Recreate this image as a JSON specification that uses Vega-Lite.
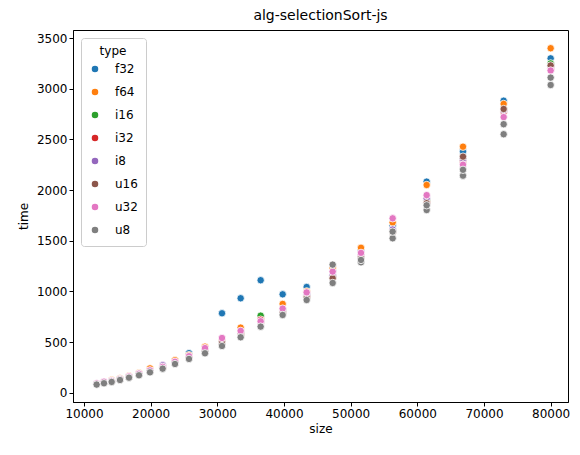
{
  "$schema": "https://vega.github.io/schema/vega-lite/v6.json",
  "autosize": {"type": "none"},
  "padding": {"left": 73, "top": 30, "right": 12, "bottom": 53},
  "width": 495,
  "height": 372,
  "background": "white",
  "title": {"text": "alg-selectionSort-js", "fontSize": 14, "font": "DejaVu Sans", "fontWeight": "normal", "color": "black", "offset": 7},
  "config": {
    "font": "DejaVu Sans",
    "view": {"stroke": "black", "strokeWidth": 1},
    "axis": {"labelFont": "DejaVu Sans", "titleFont": "DejaVu Sans", "labelFontSize": 12, "titleFontSize": 12, "titleFontWeight": "normal", "labelColor": "black", "titleColor": "black", "tickColor": "black", "domainColor": "black", "grid": false, "tickSize": 4}
  },
  "data": {"values": [
    {"size":11900,"type":"f32","time":88},{"size":11900,"type":"f64","time":86},{"size":11900,"type":"i16","time":85},{"size":11900,"type":"i32","time":84},{"size":11900,"type":"i8","time":86},{"size":11900,"type":"u16","time":85},{"size":11900,"type":"u32","time":90},{"size":11900,"type":"u8","time":80},
    {"size":13000,"type":"f32","time":100},{"size":13000,"type":"f64","time":104},{"size":13000,"type":"i16","time":98},{"size":13000,"type":"i32","time":97},{"size":13000,"type":"i8","time":99},{"size":13000,"type":"u16","time":98},{"size":13000,"type":"u32","time":108},{"size":13000,"type":"u8","time":93},
    {"size":14150,"type":"f32","time":118},{"size":14150,"type":"f64","time":122},{"size":14150,"type":"i16","time":112},{"size":14150,"type":"i32","time":111},{"size":14150,"type":"i8","time":114},{"size":14150,"type":"u16","time":112},{"size":14150,"type":"u32","time":116},{"size":14150,"type":"u8","time":106},
    {"size":15400,"type":"f32","time":135},{"size":15400,"type":"f64","time":140},{"size":15400,"type":"i16","time":130},{"size":15400,"type":"i32","time":128},{"size":15400,"type":"i8","time":132},{"size":15400,"type":"u16","time":130},{"size":15400,"type":"u32","time":134},{"size":15400,"type":"u8","time":125},
    {"size":16750,"type":"f32","time":160},{"size":16750,"type":"f64","time":165},{"size":16750,"type":"i16","time":154},{"size":16750,"type":"i32","time":152},{"size":16750,"type":"i8","time":158},{"size":16750,"type":"u16","time":155},{"size":16750,"type":"u32","time":160},{"size":16750,"type":"u8","time":148},
    {"size":18250,"type":"f32","time":185},{"size":18250,"type":"f64","time":195},{"size":18250,"type":"i16","time":180},{"size":18250,"type":"i32","time":178},{"size":18250,"type":"i8","time":185},{"size":18250,"type":"u16","time":180},{"size":18250,"type":"u32","time":188},{"size":18250,"type":"u8","time":172},
    {"size":19900,"type":"f32","time":225},{"size":19900,"type":"f64","time":240},{"size":19900,"type":"i16","time":212},{"size":19900,"type":"i32","time":210},{"size":19900,"type":"i8","time":215},{"size":19900,"type":"u16","time":212},{"size":19900,"type":"u32","time":220},{"size":19900,"type":"u8","time":201},
    {"size":21800,"type":"f32","time":255},{"size":21800,"type":"f64","time":260},{"size":21800,"type":"i16","time":248},{"size":21800,"type":"i32","time":245},{"size":21800,"type":"i8","time":270},{"size":21800,"type":"u16","time":250},{"size":21800,"type":"u32","time":255},{"size":21800,"type":"u8","time":237},
    {"size":23650,"type":"f32","time":300},{"size":23650,"type":"f64","time":320},{"size":23650,"type":"i16","time":292},{"size":23650,"type":"i32","time":290},{"size":23650,"type":"i8","time":298},{"size":23650,"type":"u16","time":295},{"size":23650,"type":"u32","time":305},{"size":23650,"type":"u8","time":283},
    {"size":25750,"type":"f32","time":390},{"size":25750,"type":"f64","time":370},{"size":25750,"type":"i16","time":350},{"size":25750,"type":"i32","time":345},{"size":25750,"type":"i8","time":355},{"size":25750,"type":"u16","time":348},{"size":25750,"type":"u32","time":360},{"size":25750,"type":"u8","time":333},
    {"size":28150,"type":"f32","time":430},{"size":28150,"type":"f64","time":454},{"size":28150,"type":"i16","time":410},{"size":28150,"type":"i32","time":405},{"size":28150,"type":"i8","time":415},{"size":28150,"type":"u16","time":420},{"size":28150,"type":"u32","time":440},{"size":28150,"type":"u8","time":389},
    {"size":30700,"type":"f32","time":784},{"size":30700,"type":"f64","time":500},{"size":30700,"type":"i16","time":480},{"size":30700,"type":"i32","time":475},{"size":30700,"type":"i8","time":485},{"size":30700,"type":"u16","time":490},{"size":30700,"type":"u32","time":540},{"size":30700,"type":"u8","time":461},
    {"size":33500,"type":"f32","time":932},{"size":33500,"type":"f64","time":642},{"size":33500,"type":"i16","time":580},{"size":33500,"type":"i32","time":570},{"size":33500,"type":"i8","time":600},{"size":33500,"type":"u16","time":590},{"size":33500,"type":"u32","time":610},{"size":33500,"type":"u8","time":547},
    {"size":36500,"type":"f32","time":1110},{"size":36500,"type":"f64","time":740},{"size":36500,"type":"i16","time":760},{"size":36500,"type":"i32","time":720},{"size":36500,"type":"i8","time":700},{"size":36500,"type":"u16","time":690},{"size":36500,"type":"u32","time":705},{"size":36500,"type":"u8","time":652},
    {"size":39800,"type":"f32","time":971},{"size":39800,"type":"f64","time":876},{"size":39800,"type":"i16","time":820},{"size":39800,"type":"i32","time":800},{"size":39800,"type":"i8","time":810},{"size":39800,"type":"u16","time":790},{"size":39800,"type":"u32","time":830},{"size":39800,"type":"u8","time":767},
    {"size":43400,"type":"f32","time":1043},{"size":43400,"type":"f64","time":1000},{"size":43400,"type":"i16","time":960},{"size":43400,"type":"i32","time":950},{"size":43400,"type":"i8","time":970},{"size":43400,"type":"u16","time":940},{"size":43400,"type":"u32","time":990},{"size":43400,"type":"u8","time":915},
    {"size":47300,"type":"f32","time":1200},{"size":47300,"type":"f64","time":1230},{"size":47300,"type":"i16","time":1150},{"size":47300,"type":"i32","time":1140},{"size":47300,"type":"i8","time":1160},{"size":47300,"type":"u16","time":1130},{"size":47300,"type":"u32","time":1195},{"size":47300,"type":"u8","time":1083},{"size":47300,"type":"u8","time":1264},
    {"size":51550,"type":"f32","time":1400},{"size":51550,"type":"f64","time":1430},{"size":51550,"type":"i16","time":1350},{"size":51550,"type":"i32","time":1340},{"size":51550,"type":"i8","time":1360},{"size":51550,"type":"u16","time":1330},{"size":51550,"type":"u32","time":1380},{"size":51550,"type":"u8","time":1287},{"size":51550,"type":"u8","time":1310},
    {"size":56300,"type":"f32","time":1650},{"size":56300,"type":"f64","time":1680},{"size":56300,"type":"i16","time":1600},{"size":56300,"type":"i32","time":1590},{"size":56300,"type":"i8","time":1610},{"size":56300,"type":"u16","time":1580},{"size":56300,"type":"u32","time":1721},{"size":56300,"type":"u8","time":1524},{"size":56300,"type":"u8","time":1590},
    {"size":61400,"type":"f32","time":2083},{"size":61400,"type":"f64","time":2050},{"size":61400,"type":"i16","time":1900},{"size":61400,"type":"i32","time":1880},{"size":61400,"type":"i8","time":1920},{"size":61400,"type":"u16","time":1870},{"size":61400,"type":"u32","time":1950},{"size":61400,"type":"u8","time":1803},{"size":61400,"type":"u8","time":1850},
    {"size":66850,"type":"f32","time":2380},{"size":66850,"type":"f64","time":2428},{"size":66850,"type":"i16","time":2300},{"size":66850,"type":"i32","time":2290},{"size":66850,"type":"i8","time":2310},{"size":66850,"type":"u16","time":2330},{"size":66850,"type":"u32","time":2250},{"size":66850,"type":"u8","time":2142},{"size":66850,"type":"u8","time":2200},
    {"size":72950,"type":"f32","time":2882},{"size":72950,"type":"f64","time":2850},{"size":72950,"type":"i16","time":2780},{"size":72950,"type":"i32","time":2770},{"size":72950,"type":"i8","time":2790},{"size":72950,"type":"u16","time":2800},{"size":72950,"type":"u32","time":2720},{"size":72950,"type":"u8","time":2551},{"size":72950,"type":"u8","time":2650},
    {"size":80000,"type":"f32","time":3300},{"size":80000,"type":"f64","time":3400},{"size":80000,"type":"i16","time":3250},{"size":80000,"type":"i32","time":3200},{"size":80000,"type":"i8","time":3220},{"size":80000,"type":"u16","time":3230},{"size":80000,"type":"u32","time":3180},{"size":80000,"type":"u8","time":3037},{"size":80000,"type":"u8","time":3110}
  ]},
  "mark": {"type": "point", "filled": true, "size": 55, "opacity": 1, "stroke": "white", "strokeWidth": 0.8},
  "encoding": {
    "x": {"field": "size", "type": "quantitative", "title": "size",
      "scale": {"domain": [8350, 82600], "nice": false, "zero": false},
      "axis": {"values": [10000, 20000, 30000, 40000, 50000, 60000, 70000, 80000], "format": "d", "titlePadding": 4}},
    "y": {"field": "time", "type": "quantitative", "title": "time",
      "scale": {"domain": [-92, 3580], "nice": false, "zero": false},
      "axis": {"values": [0, 500, 1000, 1500, 2000, 2500, 3000, 3500], "format": "d", "titlePadding": 6}},
    "color": {"field": "type", "type": "nominal", "title": "type",
      "scale": {"domain": ["f32", "f64", "i16", "i32", "i8", "u16", "u32", "u8"],
        "range": ["#1f77b4", "#ff7f0e", "#2ca02c", "#d62728", "#9467bd", "#8c564b", "#e377c2", "#7f7f7f"]},
      "legend": {"orient": "top-left", "offset": 8, "fillColor": "white", "strokeColor": "#cccccc", "padding": 8, "cornerRadius": 3,
        "titleFont": "DejaVu Sans", "titleFontSize": 12, "titleFontWeight": "normal", "titleAnchor": "middle",
        "labelFont": "DejaVu Sans", "labelFontSize": 12, "symbolType": "circle", "symbolSize": 65, "rowPadding": 7, "labelOffset": 14}}
  }
}
